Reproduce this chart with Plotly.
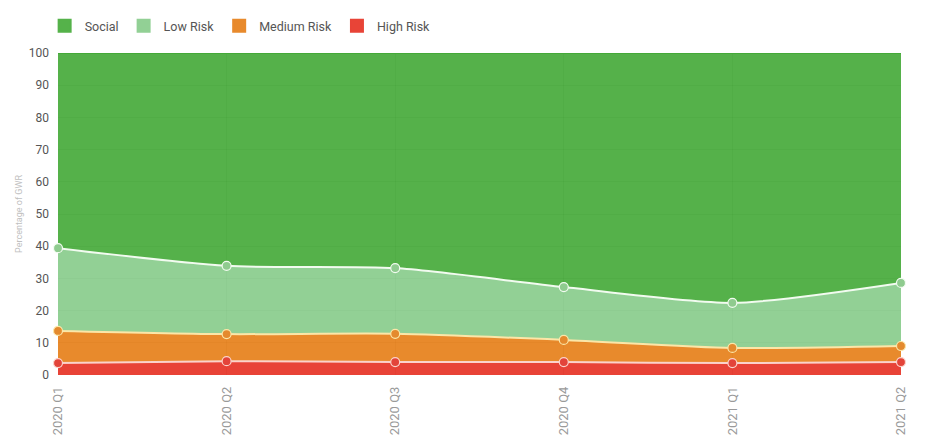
import plotly.graph_objects as go

quarters = ["2020 Q1", "2020 Q2", "2020 Q3", "2020 Q4", "2021 Q1", "2021 Q2"]
high_risk = [3.7, 4.3, 4.0, 4.0, 3.7, 4.0]
medium_risk = [10.0, 8.4, 8.8, 6.9, 4.7, 5.0]
low_risk = [25.7, 21.2, 20.4, 16.4, 14.0, 19.6]
social = [60.6, 66.1, 66.8, 72.7, 77.6, 71.4]

series = [
    # name, values, fill (rgba), line color, marker color, marker border, show markers, legend color
    ("High Risk", high_risk, "rgba(229,47,33,0.9)", "#fbd3cb", "#e3443a", "#fbd3cb", True, "#e84437"),
    ("Medium Risk", medium_risk, "rgba(229,125,21,0.9)", "#fbe6a8", "#e48a2e", "#fbe6a8", True, "#e88a2c"),
    ("Low Risk", low_risk, "rgba(134,203,137,0.9)", "#f2fbf0", "#8fcb8f", "#f2fbf0", True, "#92d095"),
    ("Social", social, "rgba(66,169,54,0.9)", "rgba(66,169,54,0.9)", "#55b24a", "#55b24a", False, "#55b24a"),
]

fig = go.Figure()
for name, vals, fill, lc, mc, mb, show_m, legc in series:
    fig.add_trace(go.Scatter(
        x=quarters, y=vals, name=name, stackgroup="one",
        mode="lines+markers" if show_m else "lines",
        line=dict(color=lc, width=2, shape="spline", smoothing=0.7),
        fillcolor=fill,
        marker=dict(size=9, color=mc, line=dict(color=mb, width=1.2)),
        cliponaxis=False, showlegend=False, hoverinfo="x+y+name",
    ))

# legend swatches (square boxes)
for name, vals, fill, lc, mc, mb, show_m, legc in reversed(series):
    fig.add_trace(go.Bar(
        x=[None], y=[None], name=name, marker=dict(color=legc, line=dict(width=3, color=legc)),
        showlegend=True, hoverinfo="skip",
    ))

fig.update_layout(
    width=930, height=441,
    margin=dict(l=58, r=29, t=53, b=66, autoexpand=False),
    paper_bgcolor="white", plot_bgcolor="white",
    font=dict(family="Roboto, sans-serif", color="#555"),
    legend=dict(orientation="h", x=0.048, xref="container", y=0.941, yref="container",
                xanchor="left", yanchor="middle",
                font=dict(size=12.5, color="#555"), traceorder="normal",
                itemwidth=30, itemsizing="constant"),
    xaxis=dict(range=[0, 5], showgrid=True, gridcolor="rgba(0,0,0,0.18)",
               tickangle=-90, tickfont=dict(size=13, color="#9a9a9a"),
               showline=False, zeroline=False, ticks="", ticklabelstandoff=8),
    yaxis=dict(range=[0, 100], dtick=10, showgrid=True, gridcolor="rgba(0,0,0,0.18)",
               tickfont=dict(size=12, color="#555"), zeroline=False, ticks="",
               ticklabelstandoff=8,
               title=dict(text="Percentage of GWR", font=dict(size=9, color="#c0c0c0"), standoff=4)),
)

fig.write_html("out.html")
